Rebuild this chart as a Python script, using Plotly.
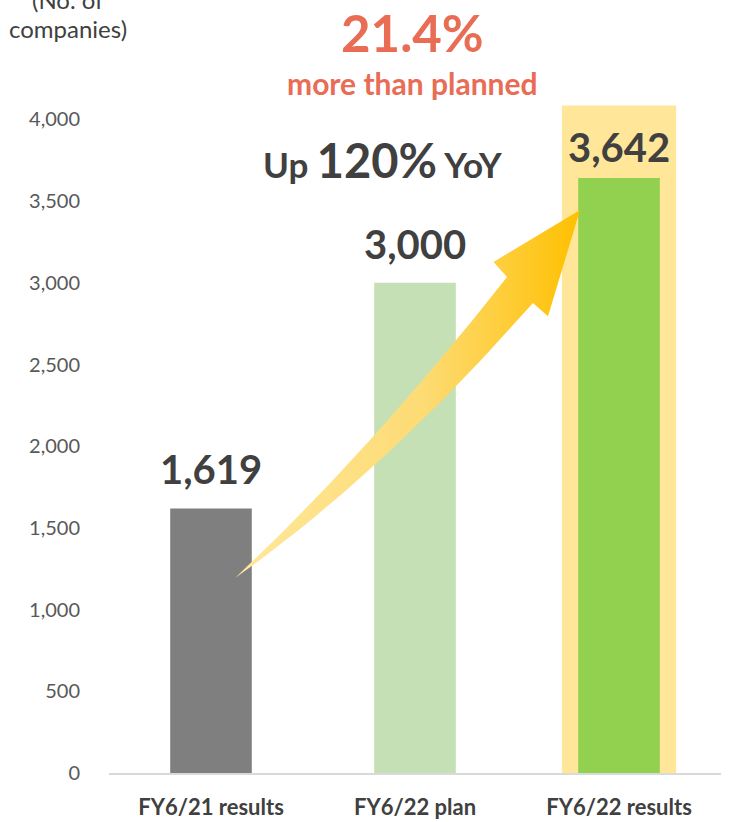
import numpy as np
import plotly.graph_objects as go

# ---------------- data ----------------
categories = ["FY6/21 results", "FY6/22 plan", "FY6/22 results"]
companies = [1619, 3000, 3642]
bar_colors = ["#7F7F7F", "#C5E0B4", "#92D050"]
highlight_category = [2]
highlight_top = [4085]
y_tick_values = [0, 500, 1000, 1500, 2000, 2500, 3000, 3500, 4000]
unit_label = ["(No. of", "companies)"]
headline_pct = "21.4%"
headline_sub = "more than planned"
yoy_pct = "120%"

# ---------------- style ----------------
FONT = "Lato"
DARK = "#404040"
TICK = "#595959"
ACCENT = "#E96C55"
label_yshift = [13, 13, 5]

x_pos = list(range(len(categories)))

fig = go.Figure()

# highlight behind the latest result
fig.add_trace(go.Bar(
    x=highlight_category, y=highlight_top, width=0.56,
    marker=dict(color="#FFE699", line=dict(width=0)),
    hoverinfo="skip", showlegend=False))

# main bars
fig.add_trace(go.Bar(
    x=x_pos, y=companies, width=0.40,
    marker=dict(color=bar_colors, line=dict(width=0)),
    showlegend=False))

# curved growth arrow (decoration) from first bar toward last bar
def qbez(p0, c, p2, n=40):
    t = np.linspace(0, 1, n)[:, None]
    p0, c, p2 = map(np.array, (p0, c, p2))
    return (1 - t) ** 2 * p0 + 2 * (1 - t) * t * c + t ** 2 * p2

tail = (0.118, 1193)
upper_end, upper_ctrl = (1.451, 3036), (0.796, 1990)
lower_end, lower_ctrl = (1.578, 2877), (0.848, 1840)
barb_up, tip, barb_lo = (1.385, 3128), (1.809, 3446), (1.652, 2795)
up = qbez(tail, upper_ctrl, upper_end)
lo = qbez(tail, lower_ctrl, lower_end)[::-1]
pts = np.vstack([up, [barb_up, tip, barb_lo], lo])
fig.add_trace(go.Scatter(
    x=pts[:, 0], y=pts[:, 1], mode="lines", fill="toself",
    line=dict(width=0, color="rgba(0,0,0,0)"),
    fillgradient=dict(type="horizontal",
                      colorscale=[[0, "#FFE89C"], [0.55, "#FDDB74"], [1, "#FFC000"]]),
    hoverinfo="skip", showlegend=False))

# value labels above bars
for i, v in enumerate(companies):
    fig.add_annotation(x=x_pos[i], y=v, xref="x", yref="y", text=f"{v:,}",
                       showarrow=False, yanchor="bottom", yshift=label_yshift[i],
                       font=dict(family=FONT, size=40, color=DARK, weight="bold"))

# headline texts
fig.add_annotation(x=0.496, y=1.101, xref="paper", yref="paper", text=headline_pct,
                   showarrow=False, xanchor="center", yanchor="middle",
                   font=dict(family=FONT, size=51, color=ACCENT, weight="bold"))
fig.add_annotation(x=0.496, y=1.025, xref="paper", yref="paper", text=headline_sub,
                   showarrow=False, xanchor="center", yanchor="middle",
                   font=dict(family=FONT, size=30, color=ACCENT, weight="bold"))
fig.add_annotation(x=0.4476, y=0.911, xref="paper", yref="paper",
                   text=f"Up <span style='font-size:47px'>{yoy_pct}</span> YoY",
                   showarrow=False, xanchor="center", yanchor="middle",
                   font=dict(family=FONT, size=35, color=DARK, weight="bold"))

# unit label
fig.add_annotation(x=-0.067, y=1.150, xref="paper", yref="paper", text=unit_label[0],
                   showarrow=False, xanchor="center", yanchor="middle",
                   font=dict(family=FONT, size=24, color=DARK))
fig.add_annotation(x=-0.067, y=1.106, xref="paper", yref="paper", text=unit_label[1],
                   showarrow=False, xanchor="center", yanchor="middle",
                   font=dict(family=FONT, size=24, color=DARK))

fig.update_layout(
    width=731, height=822,
    margin=dict(l=109, r=10, t=100, b=49, autoexpand=False),
    paper_bgcolor="white", plot_bgcolor="white",
    barmode="overlay",
    font=dict(family=FONT, color=TICK),
    xaxis=dict(range=[-0.5, 2.5], tickvals=x_pos, ticktext=categories,
               showgrid=False, zeroline=False, showline=True,
               linecolor="#D9D9D9", linewidth=2, ticks="",
               ticklabelstandoff=14, automargin=False,
               tickfont=dict(family=FONT, size=22, color=DARK, weight="bold")),
    yaxis=dict(range=[0, 4119], tickvals=y_tick_values, tickformat=",",
               showgrid=False, zeroline=False, showline=False, ticks="",
               ticklabelstandoff=28, automargin=False,
               tickfont=dict(family=FONT, size=20, color=TICK)),
)

fig.write_html("out.html")
